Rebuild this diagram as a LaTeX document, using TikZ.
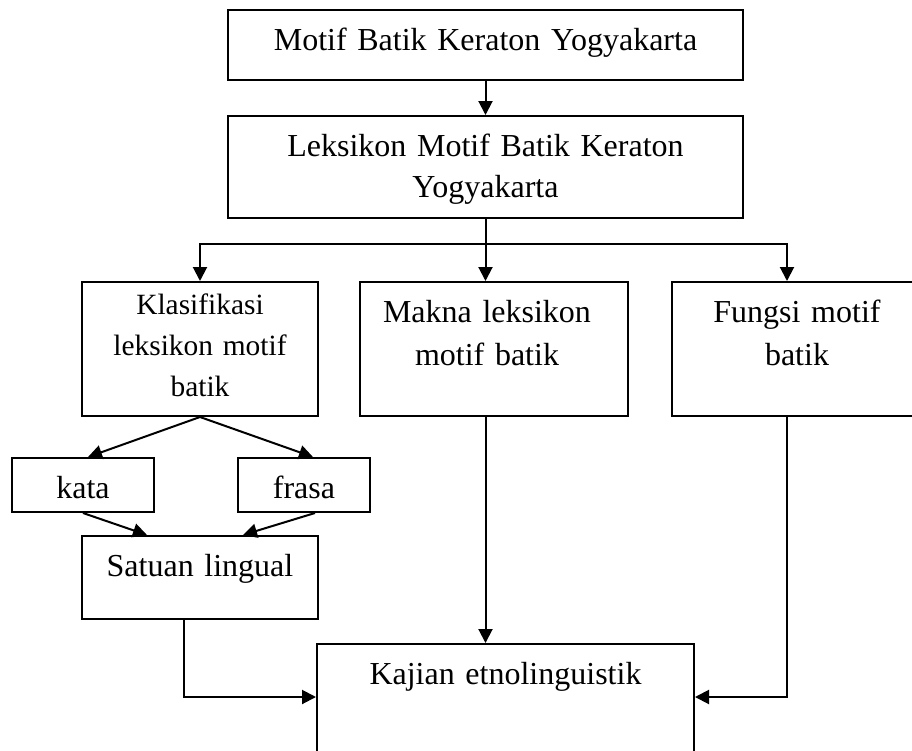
\documentclass[tikz,border=0pt]{standalone}
\usepackage{fontspec}
\setmainfont{Liberation Serif}
\usetikzlibrary{arrows.meta}
\begin{document}
\begin{tikzpicture}[x=0.5pt, y=-0.5pt,
  kotak/.style={rectangle, draw=black, line width=1pt, inner sep=0pt},
  teks/.style={anchor=base, align=center, inner sep=0pt, text width=#1, font=\fontsize{16}{20.5}\selectfont},
  teks/.default=240pt,
  tekskecil/.style={teks=112pt, font=\fontsize{14.7}{20.5}\selectfont},
  tekslebar/.style={teks=120pt, font=\fontsize{16}{21.5}\selectfont},
  garis/.style={draw=black, line width=1pt},
  panah/.style={garis, -{Triangle[length=7pt, width=7pt]}}]
\useasboundingbox (0,0) rectangle (912,751);
% boxes, placed at their centres (pixel units of the reference)
\node[kotak, minimum width=257.5pt, minimum height=35pt] (motif) at (485.5,45) {};
\node[kotak, minimum width=257.5pt, minimum height=51pt] (leks) at (485.5,167) {};
\node[kotak, minimum width=118pt, minimum height=67pt] (klas) at (200,349) {};
\node[kotak, minimum width=134pt, minimum height=67pt] (makna) at (494,349) {};
\node[kotak, minimum width=125pt, minimum height=67pt] (fungsi) at (797,349) {};
\node[kotak, minimum width=71pt, minimum height=27pt] (kata) at (83,485) {};
\node[kotak, minimum width=66pt, minimum height=27pt] (frasa) at (304,485) {};
\node[kotak, minimum width=118pt, minimum height=41.5pt] (satuan) at (200,577.5) {};
\node[kotak, minimum width=188.5pt, minimum height=63pt] (kajian) at (505.5,707) {};
% texts sit near the top of each box
\node[teks] (tmotif) at (485.5,50) {Motif Batik Keraton Yogyakarta};
\node[teks] (tleks) at (485.5,156) {Leksikon Motif Batik Keraton\\Yogyakarta};
\node[tekskecil] (tklas) at (200,314) {Klasifikasi\\leksikon motif\\batik};
\node[tekslebar] (tmakna) at (487,322) {Makna leksikon\\motif batik};
\node[tekslebar] (tfungsi) at (797,322) {Fungsi motif\\batik};
\node[teks=70pt] (tkata) at (83,498) {kata};
\node[teks=64pt] (tfrasa) at (304,498) {frasa};
\node[teks=116pt] (tsatuan) at (200,576) {Satuan lingual};
\node[teks=186pt] (tkajian) at (505.5,684) {Kajian etnolinguistik};
% connectors
\coordinate (cab) at (485.5,244);
\draw[panah] (motif.south) -- (leks.north);
\draw[garis] (leks.south) -- (cab);
\draw[panah] (cab) -| (klas.north);
\draw[panah] (cab) -- (cab |- makna.north);
\draw[panah] (cab) -| ([xshift=-5pt]fungsi.north);
\draw[panah] (klas.south) -- ([xshift=2.5pt]kata.north);
\draw[panah] (klas.south) -- ([xshift=4.5pt]frasa.north);
\draw[panah] (kata.south) -- ([xshift=-26.5pt]satuan.north);
\draw[panah] ([xshift=5.5pt]frasa.south) -- ([xshift=21.5pt]satuan.north);
\draw[panah] ([xshift=-8pt]satuan.south) |- ([yshift=5pt]kajian.west);
\draw[panah] (cab |- makna.south) -- (cab |- kajian.north);
\draw[panah] ([xshift=-5pt]fungsi.south) |- ([yshift=5pt]kajian.east);
\end{tikzpicture}
\end{document}
